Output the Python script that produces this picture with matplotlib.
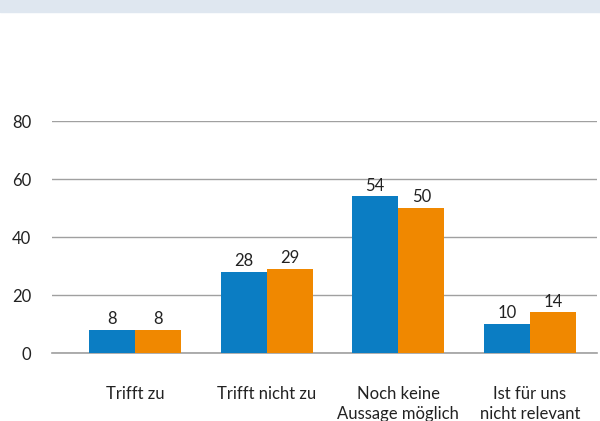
import matplotlib
matplotlib.use("Agg")
import matplotlib.pyplot as plt
import numpy as np
from matplotlib.patches import Rectangle

categories = ["Trifft zu", "Trifft nicht zu", "Noch keine\nAussage möglich", "Ist für uns\nnicht relevant"]
series_blue = [8, 28, 54, 10]
series_orange = [8, 29, 50, 14]
yticks = [0, 20, 40, 60, 80]

plt.rcParams['font.family'] = ['Lato', 'DejaVu Sans']
BLUE = "#0b7dc3"
ORANGE = "#f08800"
TXT = "#222222"
FS = 12

fig = plt.figure(figsize=(6.0, 4.21), dpi=100)
fig.patches.append(Rectangle((0, 1 - 12/421), 1, 12/421, transform=fig.transFigure,
                             color="#dfe7f0", zorder=0))
ax = fig.add_axes([52/600, 1 - 353/421, 545/600, 232/421])

x = np.arange(len(categories))
w = 0.35
b1 = ax.bar(x - w/2, series_blue, w, color=BLUE, zorder=3)
b2 = ax.bar(x + w/2, series_orange, w, color=ORANGE, zorder=3)
for bars, vals in ((b1, series_blue), (b2, series_orange)):
    for r, v in zip(bars, vals):
        ax.annotate(str(v), (r.get_x() + r.get_width()/2, r.get_height()),
                    xytext=(0, 2), textcoords="offset points", ha="center", va="bottom",
                    fontsize=FS, color=TXT, annotation_clip=False)

ax.set_ylim(0, 80)
ax.set_xlim(-0.63, 3.51)
ax.set_yticks(yticks)
ax.set_yticklabels([str(t) for t in yticks], fontsize=FS, color=TXT)
ax.set_xticks(x)
ax.set_xticklabels(categories, fontsize=FS, color=TXT, linespacing=1.25)
ax.tick_params(axis="y", length=0, pad=15)
ax.tick_params(axis="x", length=0, pad=24)
for s in ax.spines.values():
    s.set_visible(False)
ax.grid(axis="y", color="#a0a0a0", linewidth=1, zorder=0)
ax.axhline(0, color="#a0a0a0", linewidth=1.2, zorder=2, clip_on=False)
ax.set_axisbelow(True)

fig.savefig("out.png", dpi=100)
